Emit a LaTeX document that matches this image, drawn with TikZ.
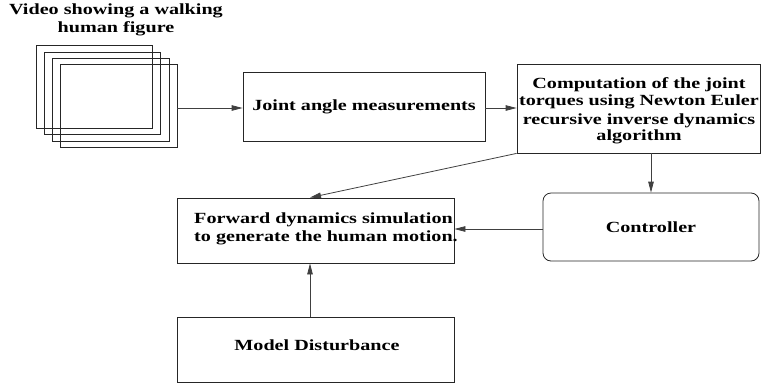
\documentclass[tikz,border=0pt]{standalone}
\usepackage{fontspec}
\setmainfont{Liberation Serif}[FakeStretch=1.3]
\usetikzlibrary{arrows.meta}
\begin{document}
\begin{tikzpicture}[x=1pt,y=-1pt,
  font=\fontsize{15.5}{18.5}\selectfont\bfseries,
  box/.style={draw=black!85, line width=0.8pt, inner sep=0pt},
  frm/.style={draw=black!85, line width=0.8pt},
  arr/.style={draw=black!75, line width=0.8pt, -{Triangle[length=11pt,width=5.5pt]}}]
\useasboundingbox (0,0) rectangle (763,389);
% video frames
\draw[frm] (36,45) rectangle (152,128);
\draw[frm] (44,52) rectangle (160,134);
\draw[frm] (52,58) rectangle (169,141);
\node[box, minimum width=117pt, minimum height=83pt] (frame) at (118.5,105.5) {};
\node[align=center, inner sep=0pt] (title) at (116,20) {Video showing a walking\\human figure};
% boxes
\node[box, minimum width=242pt, minimum height=69pt] (joint) at (364,106.5) {Joint angle measurements};
\node[box, minimum width=243pt, minimum height=89pt] (comp) at (638.5,108.5) {};
\node[align=center, inner sep=0pt] (comptext) at (639,110.5)
  {Computation of the joint\\[-2pt]torques using Newton Euler\\[1pt]recursive inverse dynamics\\[-3pt]algorithm};
\node[box, rounded corners=8pt, minimum width=216pt, minimum height=68pt] (ctrl) at (651,227) {Controller};
\node[box, minimum width=277pt, minimum height=65pt] (fwd) at (315.5,230.5) {};
\node[anchor=west, align=left, inner sep=0pt] (fwdtext) at (194,229) {Forward dynamics simulation\\to generate the human motion.};
\node[box, minimum width=277pt, minimum height=65pt] (model) at (315.5,349.5) {};
\node[inner sep=0pt] (modeltext) at (317,345) {Model Disturbance};
% connectors
\draw[arr] (frame.east |- 0,108) -- (joint.west |- 0,108);
\draw[arr] (joint.east |- 0,108) -- (comp.west |- 0,108);
\draw[arr] (comp.south -| ctrl.north) -- (ctrl.north);
\draw[arr] (ctrl.west |- 0,229) -- (fwd.east |- 0,229);
\draw[arr] (model.north -| 310,0) -- (fwd.south -| 310,0);
\draw[arr] (comp.south west) -- (fwd.north -| 310,0);
\end{tikzpicture}
\end{document}
